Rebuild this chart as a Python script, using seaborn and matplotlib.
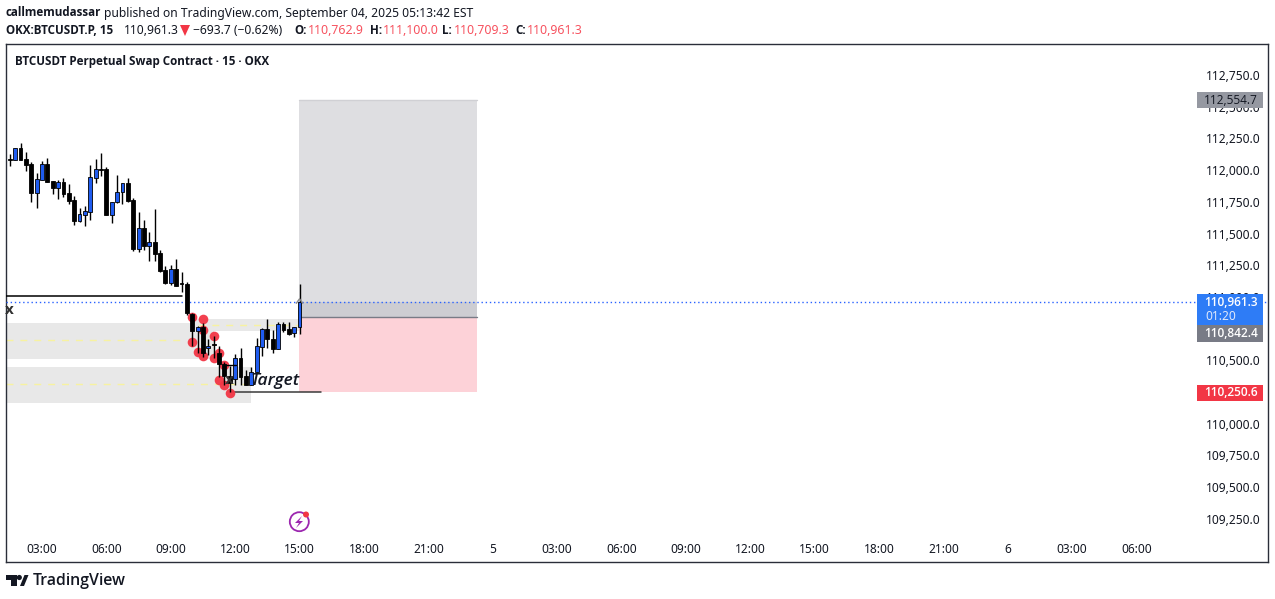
import matplotlib
matplotlib.use("Agg")
import matplotlib.pyplot as plt
from matplotlib.patches import Rectangle, Circle, Polygon
import numpy as np
import pandas as pd
import seaborn as sns

# candles, 15 min bars counted from 00:00 (bar 60 = 15:00)
first_bar = 6
opens = [112085, 112079, 112171, 112085, 112048, 111822, 111922, 112045, 111914, 111861, 111903,
         111816, 111764, 111601, 111648, 111672, 111940, 112006, 112006, 111648, 111746, 111824,
         111895, 111764, 111380, 111540, 111404, 111430, 111343, 111209, 111112, 111218, 111102,
         111102, 110865, 110733, 110760, 110595, 110621, 110558, 110471, 110376, 110353, 110518,
         110376, 110305, 110408, 110605, 110747, 110668, 110589, 110786, 110747, 110715, 110762.9]
highs = [112127, 112171, 112211, 112140, 112061, 111974, 112071, 112093, 111914, 111922, 111935,
         111887, 111795, 111698, 111717, 112037, 112087, 112132, 112022, 111746, 111961, 111895,
         111935, 111777, 111669, 111606, 111509, 111690, 111367, 111243, 111252, 111299, 111194,
         111120, 110875, 110771, 110794, 110668, 110694, 110615, 110489, 110455, 110550, 110597,
         110424, 110447, 110676, 110755, 110826, 110739, 110802, 110802, 110802, 110763, 111100]
lows = [112032, 112079, 112079, 111995, 111751, 111703, 111922, 111909, 111811, 111772, 111790,
        111732, 111567, 111593, 111559, 111606, 111901, 111956, 111646, 111585, 111738, 111732,
        111751, 111364, 111354, 111370, 111285, 111285, 111199, 111104, 111094, 111086, 111036,
        110857, 110613, 110560, 110528, 110542, 110518, 110371, 110305, 110250, 110305, 110305,
        110305, 110305, 110408, 110534, 110597, 110558, 110589, 110723, 110700, 110684, 110709.3]
closes = [112082, 112171, 112079, 112043, 111822, 111927, 112045, 111909, 111861, 111903, 111811,
          111759, 111601, 111651, 111675, 111943, 112006, 112003, 111648, 111746, 111824, 111895,
          111756, 111380, 111540, 111401, 111430, 111341, 111207, 111112, 111218, 111088, 111098,
          110873, 110733, 110760, 110555, 110613, 110618, 110471, 110376, 110321, 110516, 110368,
          110305, 110410, 110613, 110747, 110668, 110589, 110786, 110739, 110707, 110763, 110961.3]

dot_bars = [40, 42, 42, 40, 41, 42, 44, 44, 45, 46, 45, 46, 47]
dot_prices = [110839, 110823, 110739, 110647, 110568, 110534, 110694, 110516, 110555, 110463, 110345, 110305, 110245]

price_ticks = [112750, 112500, 112250, 112000, 111750, 111500, 111250, 111000, 110750, 110500,
               110250, 110000, 109750, 109500, 109250]
time_bars = [12, 24, 36, 48, 60, 72, 84, 96, 108, 120, 132, 144, 156, 168, 180, 192, 204, 216]
time_labels = ["03:00", "06:00", "09:00", "12:00", "15:00", "18:00", "21:00", "5", "03:00", "06:00",
               "09:00", "12:00", "15:00", "18:00", "21:00", "6", "03:00", "06:00"]

last_price = 110961.3
stop_price = 112554.7
entry_price = 110842.4
target_price = 110250.6

W, H = 1275, 599
sns.set_theme(style="white")
plt.rcParams["font.family"] = ["Noto Sans", "DejaVu Sans"]
TXT = "#131722"
BOLD = "Open Sans"

df = pd.DataFrame({"bar": np.arange(len(opens)) + first_bar, "open": opens, "high": highs,
                   "low": lows, "close": closes})
df["up"] = df["close"] > df["open"]
df["top"] = df[["open", "close"]].max(axis=1)
df["bottom"] = df[["open", "close"]].min(axis=1)

fig = plt.figure(figsize=(W / 100, H / 100), dpi=100, facecolor="white")
ax = fig.add_axes([6 / W, 1 - 562 / H, 1262 / W, 518 / H])
ax.set_xlim(5.29, 240.5)
ax.set_ylim(108909.5, 112994.5)

# zones
ax.add_patch(Rectangle((5, 110510), 39, 287, color="#e8e8e8", lw=0, zorder=1))
ax.add_patch(Rectangle((40, 110731), 20, 95, color="#e8e8e8", lw=0, zorder=1))
ax.add_patch(Rectangle((5, 110163), 46, 284, color="#e8e8e8", lw=0, zorder=1))
for xs, y in [((5.3, 38), 110660), ((41, 60), 110781), ((5.3, 51), 110313)]:
    ax.plot(xs, [y, y], color="#f7f2a0", lw=1, dashes=(5, 5), zorder=1.5)

# position box
ax.add_patch(Rectangle((59.9, entry_price), 33.1, stop_price - entry_price, color="#dedee1", lw=0, zorder=2))
ax.add_patch(Rectangle((59.9, entry_price), 33.1, last_price - entry_price, color="#cdcdd2", lw=0, zorder=2.1))
ax.add_patch(Rectangle((59.9, target_price), 33.1, entry_price - target_price, color="#fdd2d8", lw=0, zorder=2))
ax.plot([59.9, 93], [entry_price, entry_price], color="#787b86", lw=1, zorder=2.2)
ax.plot([59.9, 93], [stop_price, stop_price], color="#d0d0d4", lw=1, zorder=2.2)

# levels
ax.plot([5.3, 38], [111011, 111011], color="black", lw=1.1, zorder=3)
ax.plot([47, 64], [target_price, target_price], color="#3a3a3a", lw=1.1, zorder=3)
ax.plot([46, 48.2], [110463, 110463], color="black", lw=1, zorder=5)
ax.axhline(last_price, color="#2962ff", lw=1, dashes=(1, 2), zorder=3)

# wicks and bodies
ax.vlines(df["bar"], df["low"], df["high"], color="black", lw=1, zorder=4)
ax.bar(df["bar"], (df["top"] - df["bottom"]).clip(lower=8), bottom=df["bottom"], width=0.72,
       color=np.where(df["up"], "#1f5cf0", "black"), edgecolor="black", lw=0.6, zorder=4.5)

# pivot dots
sns.scatterplot(x=dot_bars, y=dot_prices, ax=ax, color="#f23645", s=48, linewidth=0, alpha=0.95,
                zorder=3.5, legend=False)

ax.text(5.9, 110896, "x", fontsize=11, fontweight="bold", family=BOLD, color="#333333", ha="center", va="center", zorder=6)
ax.text(47, 110345, "x", fontsize=11, fontweight="bold", family=BOLD, color="#333333", ha="center", va="center", zorder=6)
ax.text(50.8, 110340, "Target", fontsize=12.5, style="italic", fontweight="semibold", family=BOLD, color=TXT,
        ha="left", va="center", zorder=6)
ax.plot([59.4, 60, 60.6], [110950, 110985, 110950], color="#8a8a8a", lw=1, zorder=6)

# axis labels sit inside the frame
ax.yaxis.tick_right()
ax.set_yticks(price_ticks)
ax.set_yticklabels([f"{p:,.1f}" for p in price_ticks])
ax.tick_params(axis="y", length=0, pad=-45, labelsize=8.6, labelcolor=TXT)
ax.set_xticks(time_bars)
ax.set_xticklabels(time_labels)
ax.tick_params(axis="x", length=0, pad=-14, labelsize=8.6, labelcolor=TXT)
for s in ax.spines.values():
    s.set_color("#2a2e39")
    s.set_linewidth(1)
    s.set_visible(True)
ax.grid(False)

# overlay in pixel coordinates for the price tags, header and logo
ov = fig.add_axes([0, 0, 1, 1], facecolor="none")
ov.set_xlim(0, W)
ov.set_ylim(H, 0)
ov.axis("off")


def tag(y0, y1, color, label, text_color="white", weight="semibold", yt=None):
    ov.add_patch(Rectangle((1197, y0), 66, y1 - y0, color=color, lw=0))
    ov.text(1258, (y0 + y1) / 2 if yt is None else yt, label, fontsize=8.6, color=text_color,
            ha="right", va="center", fontweight=weight, family=BOLD)


tag(92, 108, "#9598a1", f"{stop_price:,.1f}", text_color=TXT, weight="normal")
tag(294, 325, "#2e7cf6", f"{last_price:,.1f}", yt=302)
ov.text(1205, 316, "01:20", fontsize=8.6, color="#dfe8fb", ha="left", va="center")
tag(325, 342, "#787b86", f"{entry_price:,.1f}")
tag(385, 401, "#f23645", f"{target_price:,.1f}")

ov.text(6, 13, "callmemudassar", fontsize=8.4, fontweight="bold", family=BOLD, color=TXT, va="center")
ov.text(104, 13, "published on TradingView.com, September 04, 2025 05:13:42 EST", fontsize=8.7,
        color=TXT, va="center")
ov.text(6, 30, "OKX:BTCUSDT.P, 15", fontsize=8.4, fontweight="bold", family=BOLD, color=TXT, va="center")
ov.text(124, 30, f"{last_price:,.1f}", fontsize=8.7, color=TXT, va="center")
ov.add_patch(Polygon([[180, 25], [190, 25], [185, 36]], color="#f23645", lw=0))
ov.text(193, 30, "\u2212693.7 (\u22120.62%)", fontsize=8.7, color=TXT, va="center")
for x, lab in [(294, "O:"), (370, "H:"), (442, "L:"), (515, "C:")]:
    ov.text(x, 30, lab, fontsize=8.4, fontweight="bold", family=BOLD, color=TXT, va="center")
for x, lab in [(308, "110,762.9"), (383, "111,100.0"), (454, "110,709.3"), (527, "110,961.3")]:
    ov.text(x, 30, lab, fontsize=8.9, color="#f7525f", va="center")
ov.text(15, 61, "BTCUSDT Perpetual Swap Contract \u00b7 15 \u00b7 OKX", fontsize=8.4, fontweight="bold",
        family=BOLD, color=TXT, va="center")

# flash icon
ov.add_patch(Circle((299.3, 521.7), 9.5, fill=False, ec="#9c27b0", lw=1.3))
ov.add_patch(Polygon([[302, 516], [295, 523], [299, 523], [296, 528], [303, 521], [299, 521]],
                     color="#9c27b0", lw=0))
ov.add_patch(Circle((306, 514.5), 3, color="#f23645", lw=0))

# logo
ov.add_patch(Polygon([[6, 575], [16.7, 575], [16.7, 586], [11, 586], [11, 580], [6, 580]], color=TXT, lw=0))
ov.add_patch(Circle((19.3, 577.5), 2.6, color=TXT, lw=0))
ov.add_patch(Polygon([[20, 586], [24.5, 575], [28.5, 575], [24, 586]], color=TXT, lw=0))
ov.text(33, 581, "TradingView", fontsize=11.4, fontweight="semibold", family=BOLD, color=TXT, va="center")

fig.savefig("out.png", dpi=100)
